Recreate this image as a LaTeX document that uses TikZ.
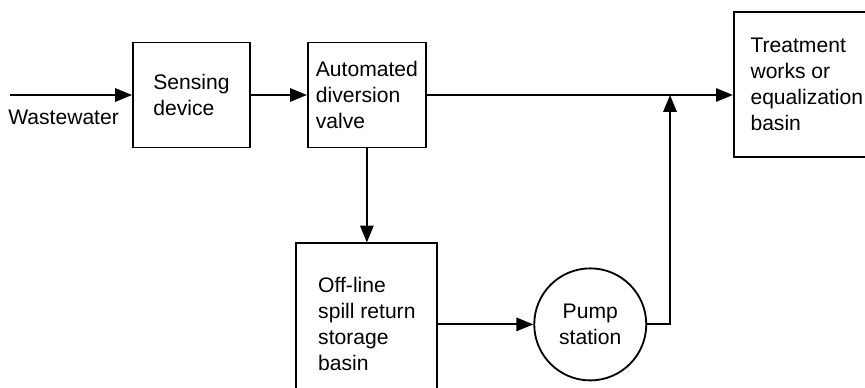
\documentclass[tikz,border=0pt]{standalone}
\usepackage{fontspec}
\setmainfont{Liberation Sans}
\usetikzlibrary{arrows.meta,positioning}

\begin{document}
\begin{tikzpicture}[
    x=0.025cm, y=-0.025cm,
    block/.style={rectangle, draw=black, line width=1.3pt, align=left, inner sep=0pt, font={\fontsize{15}{18.5}\selectfont}},
    pumpnode/.style={circle, draw=black, line width=1.3pt, align=center, inner sep=0pt, minimum size=2.8cm, font={\fontsize{15}{18.5}\selectfont}},
    flow/.style={-{Triangle[length=12pt,width=9.5pt]}, line width=1.3pt},
    pipe/.style={line width=1.3pt}
    ]
    \useasboundingbox (0,0) rectangle (865,387);
    \clip (0,0) rectangle (865,387);
    \node[block, minimum width=2.925cm, minimum height=2.625cm] (Sensing) at (191.5,95) {Sensing\\device};
    \node[block, minimum width=2.95cm, minimum height=2.625cm, right=1.4cm of Sensing] (Valve) {Automated\\diversion\\valve};
    \node[block, minimum width=3.65cm, minimum height=3.625cm, right=7.65cm of Valve, yshift=0.2625cm] (Treatment) {Treatment\\works or\\equalization\\basin};
    \node[block, minimum width=3.525cm, minimum height=4.05cm, below=2.35cm of Valve] (Storage) {Off-line\\spill return\\storage\\basin};
    \node[pumpnode, right=2.375cm of Storage] (Pump) {Pump\\station};
    \coordinate (inflow) at (10,95);
    \coordinate (join) at (670,95);
    \node[font={\fontsize{15}{18.5}\selectfont}, inner sep=0pt, anchor=base west] (Wastewater) at (8,124.5) {Wastewater};
    \draw[flow] (inflow) -- (Sensing);
    \draw[flow] (Sensing) -- (Valve);
    \draw[flow] (Valve.east) -- (Valve.east -| Treatment.west);
    \draw[flow] (Valve.south) -- (Valve.south |- Storage.north);
    \draw[flow] (Storage) -- (Pump);
    \draw[flow] (Pump.east) -| (join);
  \end{tikzpicture}
\end{document}
